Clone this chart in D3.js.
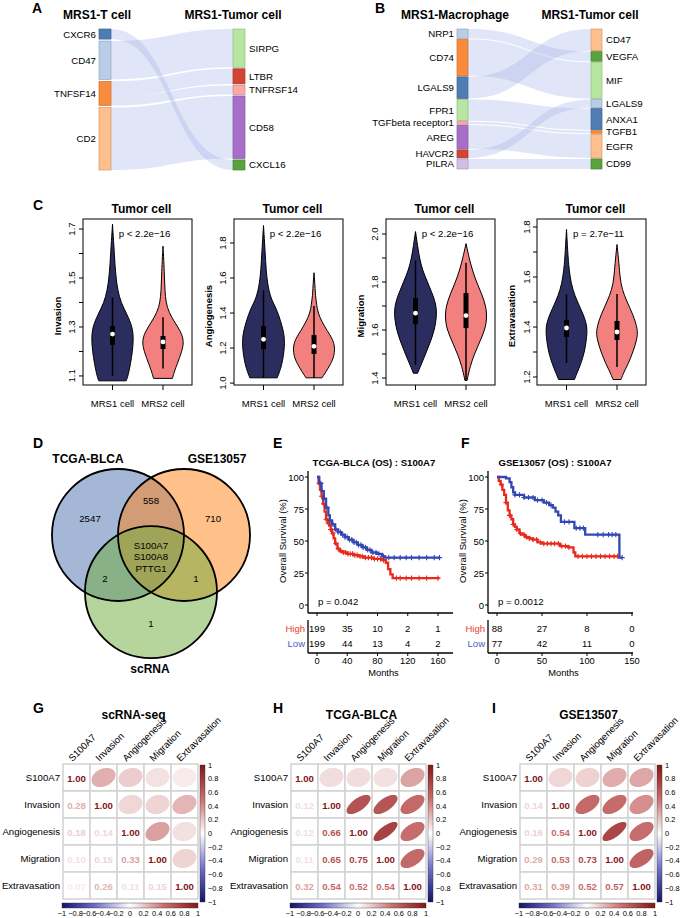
<!DOCTYPE html>
<html><head><meta charset="utf-8">
<script src="https://cdn.jsdelivr.net/npm/d3@7"></script>
<style>body{margin:0;background:#fff;} svg{display:block;}</style>
</head><body>
<svg id="fig" width="685" height="918"></svg>
<script>
// ===================== DATA =====================
// Panel A sankey
const sankeyALeft = ["CXCR6","CD47","TNFSF14","CD2"];
const sankeyARight = ["SIRPG","LTBR","TNFRSF14","CD58","CXCL16"];
const sankeyALinks = [["CXCR6","CXCL16",10],["CD47","SIRPG",38],["TNFSF14","LTBR",15],["TNFSF14","TNFRSF14",9],["CD2","CD58",62]];
// Panel B sankey
const sankeyBLeft = ["NRP1","CD74","LGALS9","FPR1","TGFbeta receptor1","AREG","HAVCR2","PILRA"];
const sankeyBRight = ["CD47","VEGFA","MIF","LGALS9","ANXA1","TGFB1","EGFR","CD99"];
const sankeyBLinks = [["NRP1","VEGFA",9.5],["CD74","MIF",36],["LGALS9","CD47",21.5],["FPR1","ANXA1",21],["TGFbeta receptor1","TGFB1",2.5],["AREG","EGFR",23.5],["HAVCR2","LGALS9",8],["PILRA","CD99",10]];

// Panel C violins
const violinMetrics = ["Invasion","Angiogenesis","Migration","Extravasation"];
const violinGroups = ["MRS1 cell","MRS2 cell"];
const violinPvals = ["p < 2.2e\u221216","p < 2.2e\u221216","p < 2.2e\u221216","p = 2.7e\u221211"];
const violinYLimits = [[1.063,1.741],[0.989,1.937],[1.371,2.0625],[1.168,1.832]];
const violinTicks = [[1.1,1.2,1.3,1.4,1.5,1.6,1.7],[1.0,1.2,1.4,1.6,1.8],[1.4,1.5,1.6,1.7,1.8,1.9,2.0],[1.2,1.3,1.4,1.5,1.6,1.7,1.8]];
const violinTickLabels = [[1.1,1.3,1.5,1.7],[1.0,1.2,1.4,1.6,1.8],[1.4,1.6,1.8,2.0],[1.2,1.4,1.6,1.8]];
// density profiles [value, relative half-width]
const densInvasionMRS1 = [[1.08,0.65],[1.10,0.74],[1.15,0.86],[1.20,0.95],[1.25,1.0],[1.30,0.95],[1.35,0.70],[1.40,0.40],[1.45,0.25],[1.50,0.17],[1.55,0.12],[1.60,0.09],[1.65,0.05],[1.72,0.0]];
const densInvasionMRS2 = [[1.09,0.45],[1.12,0.55],[1.15,0.68],[1.20,0.90],[1.24,1.0],[1.28,0.86],[1.32,0.55],[1.36,0.28],[1.40,0.14],[1.45,0.09],[1.50,0.07],[1.55,0.05],[1.63,0.0]];
const densAngioMRS1 = [[1.03,0.65],[1.10,0.88],[1.20,1.0],[1.25,1.0],[1.30,0.95],[1.40,0.70],[1.45,0.50],[1.50,0.30],[1.60,0.15],[1.70,0.10],[1.80,0.05],[1.90,0.0]];
const densAngioMRS2 = [[1.03,0.38],[1.10,0.76],[1.15,0.95],[1.20,1.0],[1.25,0.90],[1.30,0.62],[1.35,0.38],[1.40,0.19],[1.45,0.12],[1.50,0.07],[1.55,0.05],[1.63,0.0]];
const densMigrMRS1 = [[1.42,0.10],[1.45,0.24],[1.50,0.48],[1.55,0.71],[1.60,0.90],[1.65,1.0],[1.70,1.0],[1.75,0.81],[1.80,0.57],[1.85,0.33],[1.90,0.19],[1.95,0.10],[2.01,0.0]];
const densMigrMRS2 = [[1.39,0.05],[1.45,0.20],[1.50,0.40],[1.55,0.65],[1.60,0.90],[1.65,1.0],[1.70,0.95],[1.75,0.75],[1.80,0.50],[1.85,0.30],[1.90,0.15],[1.96,0.0]];
const densExtraMRS1 = [[1.19,0.38],[1.22,0.52],[1.25,0.67],[1.30,0.86],[1.35,0.95],[1.40,1.0],[1.45,0.81],[1.50,0.52],[1.55,0.29],[1.60,0.17],[1.65,0.10],[1.70,0.06],[1.79,0.0]];
const densExtraMRS2 = [[1.19,0.19],[1.22,0.33],[1.25,0.52],[1.30,0.76],[1.35,0.95],[1.39,1.0],[1.45,0.76],[1.50,0.48],[1.55,0.24],[1.60,0.14],[1.65,0.10],[1.73,0.0]];
// box stats [q1, median, q3, whiskerLow, whiskerHigh]
const boxInvasion = [[1.227,1.271,1.304,1.10,1.42],[1.210,1.239,1.263,1.13,1.34]];
const boxAngio = [[1.194,1.25,1.326,1.03,1.53],[1.166,1.21,1.274,1.03,1.44]];
const boxMigr = [[1.625,1.67,1.733,1.455,1.89],[1.608,1.66,1.754,1.39,1.88]];
const boxExtra = [[1.36,1.396,1.428,1.256,1.53],[1.348,1.38,1.424,1.24,1.532]];

// Panel D venn
const vennSets = ["TCGA-BLCA","GSE13057","scRNA"];
const vennCounts = {a:"2547", ab:"558", b:"710", ac:"2", bc:"1", c:"1"};
const vennCore = ["S100A7","S100A8","PTTG1"];

// Panel E / F survival
const kmEHigh = [[0,100],[2,95],[4,90],[6,85],[8,79],[10,73],[12,67],[14,64],[16,62],[18,59],[20,56],[22,52],[24,48],[27,44],[30,42],[35,41],[40,40],[48,39],[55,38],[62,37],[75,36],[86,35],[91,33],[94,28],[97,24],[100,21],[162,21]];
const kmELow = [[0,100],[3,95],[6,89],[9,83],[12,76],[15,70],[17,66],[20,63],[24,59],[28,57],[32,55],[37,53],[42,51],[48,49],[54,47],[60,45],[66,43],[72,41],[79,40],[86,38],[90,37],[162,37]];
const kmEHighCensor = [3,6,9,12,15,18,21,25,28,32,35,38,41,44,47,50,53,57,60,64,68,72,76,80,84,88,105,110,118,125,135,145,160];
const kmELowCensor = [5,9,13,17,21,25,28,31,34,37,40,43,46,49,52,55,58,61,64,67,70,74,78,82,88,95,102,110,118,125,135,145,155,162];
const kmFHigh = [[0,100],[2,97],[4,94],[6,90],[8,86],[10,80],[12,74],[14,70],[16,67],[18,63],[20,61],[22,59],[25,56],[28,55],[31,53],[36,52],[40,51],[45,49],[50,48],[65,48],[70,46],[79,45],[85,41],[87,38],[134,38]];
const kmFLow = [[0,100],[10,99],[14,96],[16,92],[18,88],[20,86],[30,84],[42,82],[52,80],[58,78],[62,76],[65,73],[68,70],[71,65],[85,65],[86,60],[97,60],[98,55],[135,55],[136,37],[139,37]];
const kmFHighCensor = [5,10,14,18,22,26,30,33,36,40,44,48,52,56,60,64,68,72,76,80,90,95,100,105,110,115,120,125,130,134];
const kmFLowCensor = [20,25,30,35,40,45,50,55,60,75,80,88,92,96,112,118,124,128,132,139];
const riskETimes = [0,40,80,120,160], riskEHigh = [199,35,10,2,1], riskELow = [199,44,13,4,2];
const riskFTimes = [0,50,100,150], riskFHigh = [88,27,8,0], riskFLow = [77,42,11,0];
const kmTicksY = [0,25,50,75,100];

// Panels G/H/I correlation
const corrVars = ["S100A7","Invasion","Angiogenesis","Migration","Extravasation"];
const corrScRNA = [[1,0.28,0.18,0.10,0.07],[0.28,1,0.14,0.15,0.26],[0.18,0.14,1,0.33,0.11],[0.10,0.15,0.33,1,0.15],[0.07,0.26,0.11,0.15,1]];
const corrTCGA = [[1,0.12,0.12,0.11,0.32],[0.12,1,0.66,0.65,0.54],[0.12,0.66,1,0.75,0.52],[0.11,0.65,0.75,1,0.54],[0.32,0.54,0.52,0.54,1]];
const corrGSE = [[1,0.14,0.16,0.29,0.31],[0.14,1,0.54,0.53,0.39],[0.16,0.54,1,0.73,0.52],[0.29,0.53,0.73,1,0.57],[0.31,0.39,0.52,0.57,1]];
const corrLegendTicks = [-1,-0.8,-0.6,-0.4,-0.2,0,0.2,0.4,0.6,0.8,1];

// ===================== DRAWING =====================
const svg = d3.select("#fig").style("font-family","Arial, 'Liberation Sans', Helvetica, sans-serif");
function txt(g,x,y,s,o={}){
  const t=g.append("text").attr("x",x).attr("y",y).text(s)
    .attr("font-size",o.size||9.6).attr("text-anchor",o.anchor||"start")
    .attr("font-weight",o.bold?"bold":"normal").attr("fill",o.fill||"#000")
    .attr("dominant-baseline","central");
  if(o.rotate) t.attr("transform",`rotate(${o.rotate},${x},${y})`);
  return t;
}
const fmtMinus = v => (v<0?"\u2212":"")+Math.abs(v);

// panel letters
[["A",32,8],["B",375,8],["C",33,205],["D",33,443],["E",273,443],["F",461,443],["G",33,708],["H",273,708],["I",492,708]]
 .forEach(d=>txt(svg,d[1],d[2],d[0],{size:14,bold:true}));

// ---------- Sankey ----------
function drawSankey(leftN,rightN,links,colL,colR,L){
  const g=svg.append("g");
  const lv=leftN.map(n=>d3.sum(links.filter(l=>l[0]===n),l=>l[2]));
  const rv=rightN.map(n=>d3.sum(links.filter(l=>l[1]===n),l=>l[2]));
  const H=L.y1-L.y0;
  const ky=Math.min((H-L.pad*(leftN.length-1))/d3.sum(lv),(H-L.pad*(rightN.length-1))/d3.sum(rv));
  const hs=d3.scaleLinear().domain([0,1]).range([0,ky]);
  function place(names,vals){
    const gap=(H-hs(d3.sum(vals)))/(names.length-1); let y=L.y0; const o={};
    names.forEach((n,i)=>{o[n]={y0:y,y1:y+hs(vals[i])}; y+=hs(vals[i])+gap;}); return o;
  }
  const PL=place(leftN,lv), PR=place(rightN,rv);
  const lo={},ro={}; leftN.forEach(n=>lo[n]=PL[n].y0); rightN.forEach(n=>ro[n]=PR[n].y0);
  const ls=links.map(l=>({s:l[0],t:l[1],v:l[2]}));
  ls.slice().sort((a,b)=>PR[a.t].y0-PR[b.t].y0).forEach(l=>{l.sy0=lo[l.s];l.sy1=l.sy0+hs(l.v);lo[l.s]=l.sy1;});
  ls.slice().sort((a,b)=>PL[a.s].y0-PL[b.s].y0).forEach(l=>{l.ty0=ro[l.t];l.ty1=l.ty0+hs(l.v);ro[l.t]=l.ty1;});
  const xa=L.xl+L.nw, xb=L.xr, xm=(xa+xb)/2;
  g.selectAll("path.lk").data(ls).join("path")
    .attr("d",l=>`M${xa},${l.sy0}C${xm},${l.sy0} ${xm},${l.ty0} ${xb},${l.ty0}L${xb},${l.ty1}C${xm},${l.ty1} ${xm},${l.sy1} ${xa},${l.sy1}Z`)
    .attr("fill","#a9b7ea").attr("fill-opacity",0.36);
  leftN.forEach((n,i)=>{
    g.append("rect").attr("x",L.xl).attr("y",PL[n].y0).attr("width",L.nw).attr("height",PL[n].y1-PL[n].y0)
      .attr("fill",colL[i]).attr("stroke",d3.color(colL[i]).darker(0.6)).attr("stroke-width",0.7);
    txt(g,L.xl-3,(PL[n].y0+PL[n].y1)/2,n,{anchor:"end",size:9.7});
  });
  rightN.forEach((n,i)=>{
    g.append("rect").attr("x",L.xr).attr("y",PR[n].y0).attr("width",L.nw).attr("height",PR[n].y1-PR[n].y0)
      .attr("fill",colR[i]).attr("stroke",d3.color(colR[i]).darker(0.6)).attr("stroke-width",0.7);
    txt(g,L.xr+L.nw+4,(PR[n].y0+PR[n].y1)/2,n,{size:9.7});
  });
  txt(g,L.t1x,15,L.t1,{anchor:"middle",bold:true,size:12});
  txt(g,L.t2x,15,L.t2,{anchor:"middle",bold:true,size:12});
}
drawSankey(sankeyALeft,sankeyARight,sankeyALinks,
  ["#4f7db3","#b9cde9","#f98c3c","#ffbf8c"],
  ["#b7e6a1","#cf4536","#ffa9a7","#a76fca","#5aa33c"],
  {xl:99,nw:12,xr:233,y0:29,y1:170,pad:1.5,t1:"MRS1-T cell",t1x:97,t2:"MRS1-Tumor cell",t2x:233});
drawSankey(sankeyBLeft,sankeyBRight,sankeyBLinks,
  ["#b9cde9","#f98c3c","#4f7db3","#b7e6a1","#ffa9a7","#a76fca","#cf4536","#d2bfe6"],
  ["#ffbf8c","#5aa33c","#b7e6a1","#b9cde9","#4f7db3","#f98c3c","#ffbf8c","#5aa33c"],
  {xl:457,nw:11,xr:591,y0:29,y1:169,pad:1,t1:"MRS1-Macrophage",t1x:455,t2:"MRS1-Tumor cell",t2x:590});

// ---------- Violins ----------
const violinDens=[[densInvasionMRS1,densInvasionMRS2],[densAngioMRS1,densAngioMRS2],[densMigrMRS1,densMigrMRS2],[densExtraMRS1,densExtraMRS2]];
const violinBox=[boxInvasion,boxAngio,boxMigr,boxExtra];
const violinFill=["#2b2d5f","#f1807e"];
const vLefts=[83,234,386,537];
violinMetrics.forEach((m,i)=>{
  const g=svg.append("g");
  const left=vLefts[i], top=219, bottom=385, w=109;
  const y=d3.scaleLinear().domain(violinYLimits[i]).range([bottom,top]);
  const x=d3.scalePoint().domain(violinGroups).range([left+29.5,left+80]);
  const ws=d3.scaleLinear().domain([0,1]).range([0,21]);
  violinGroups.forEach((gr,j)=>{
    const cx=x(gr);
    const area=d3.area().y(d=>y(d[0])).x0(d=>cx-ws(d[1])).x1(d=>cx+ws(d[1])).curve(d3.curveBasis);
    g.append("path").attr("d",area(violinDens[i][j])).attr("fill",violinFill[j]).attr("stroke","#000").attr("stroke-width",1);
    const b=violinBox[i][j];
    g.append("line").attr("x1",cx).attr("x2",cx).attr("y1",y(b[3])).attr("y2",y(b[4])).attr("stroke","#000").attr("stroke-width",1.5);
    g.append("rect").attr("x",cx-2.5).attr("width",5).attr("y",y(b[2])).attr("height",y(b[0])-y(b[2])).attr("fill","#000");
    g.append("circle").attr("cx",cx).attr("cy",y(b[1])).attr("r",2.4).attr("fill","#fff");
    g.append("line").attr("x1",cx).attr("x2",cx).attr("y1",bottom).attr("y2",bottom+5).attr("stroke","#000");
    txt(g,cx,403,gr,{anchor:"middle",size:9.5});
  });
  g.append("rect").attr("x",left).attr("y",top).attr("width",w).attr("height",bottom-top).attr("fill","none").attr("stroke","#000").attr("stroke-width",1);
  violinTicks[i].forEach(t=>{
    g.append("line").attr("x1",left-4).attr("x2",left).attr("y1",y(t)).attr("y2",y(t)).attr("stroke","#000");
  });
  violinTickLabels[i].forEach(t=>txt(g,left-11,y(t),t.toFixed(1),{anchor:"middle",rotate:-90,size:9.6}));
  txt(g,left-26,316,m,{anchor:"middle",rotate:-90,bold:true,size:9.5});
  txt(g,left+w/2+4,209,"Tumor cell",{anchor:"middle",bold:true,size:12});
  txt(g,left+w/2+7,233,violinPvals[i],{anchor:"middle",size:9.7});
});

// ---------- Venn ----------
(function(){
  const g=svg.append("g");
  const r=66, cx=151, cy=535;
  const circ=[{x:cx-r/2,y:cy,c:"#496faf"},{x:cx+r/2,y:cy,c:"#ff8115"},{x:cx,y:cy+r*Math.sqrt(3)/2,c:"#6dab39"}];
  circ.forEach(c=>g.append("circle").attr("cx",c.x).attr("cy",c.y).attr("r",r).attr("fill",c.c).attr("fill-opacity",0.5));
  circ.forEach(c=>g.append("circle").attr("cx",c.x).attr("cy",c.y).attr("r",r).attr("fill","none").attr("stroke","#000").attr("stroke-width",1.8));
  txt(g,88,459,vennSets[0],{anchor:"middle",bold:true,size:12});
  txt(g,217,459,vennSets[1],{anchor:"middle",bold:true,size:12});
  txt(g,150,669,vennSets[2],{anchor:"middle",bold:true,size:12});
  txt(g,90,518,vennCounts.a,{anchor:"middle",size:9.7});
  txt(g,151,500,vennCounts.ab,{anchor:"middle",size:9.7});
  txt(g,213,518,vennCounts.b,{anchor:"middle",size:9.7});
  vennCore.forEach((s,i)=>txt(g,151,545+i*11.5,s,{anchor:"middle",size:9.7}));
  txt(g,105,578,vennCounts.ac,{anchor:"middle",size:9.7});
  txt(g,196,578,vennCounts.bc,{anchor:"middle",size:9.7});
  txt(g,151,623,vennCounts.c,{anchor:"middle",size:9.7});
})();

// ---------- KM ----------
function survAt(curve,t){let s=100;for(const d of curve) if(d[0]<=t) s=d[1];return s;}
function drawKM(c){
  const g=svg.append("g");
  const x=d3.scaleLinear().domain([0,c.tmax]).range([c.x0,c.x1]);
  const y=d3.scaleLinear().domain([0,100]).range([605,477]);
  const ax=c.axisX, ae=c.axisEnd;
  g.append("line").attr("x1",ax).attr("x2",ax).attr("y1",471).attr("y2",613).attr("stroke","#000").attr("stroke-width",1.3);
  g.append("line").attr("x1",ax).attr("x2",ae).attr("y1",613).attr("y2",613).attr("stroke","#000").attr("stroke-width",1.3);
  kmTicksY.forEach(t=>{
    g.append("line").attr("x1",ax-3).attr("x2",ax).attr("y1",y(t)).attr("y2",y(t)).attr("stroke","#000");
    txt(g,ax-4,y(t),t,{anchor:"end",size:9.5});
  });
  c.ticks.forEach(t=>g.append("line").attr("x1",x(t)).attr("x2",x(t)).attr("y1",613).attr("y2",616).attr("stroke","#000"));
  const line=d3.line().x(d=>x(d[0])).y(d=>y(d[1])).curve(d3.curveStepAfter);
  [[c.high,c.highC,"#e8291c"],[c.low,c.lowC,"#3347b2"]].forEach(([cur,cens,col])=>{
    g.append("path").attr("d",line(cur)).attr("fill","none").attr("stroke",col).attr("stroke-width",2.3);
    g.selectAll(null).data(cens).join("path")
      .attr("d",t=>{const px=x(t),py=y(survAt(cur,t));return `M${px-2.6},${py}h5.2M${px},${py-2.6}v5.2`;})
      .attr("stroke",col).attr("stroke-width",1.1).attr("fill","none");
  });
  txt(g,c.x0+1,601,c.p,{size:9.6});
  txt(g,c.titleX,462,c.title,{anchor:"middle",bold:true,size:9.6});
  txt(g,c.ylabX,541,"Overall Survival (%)",{anchor:"middle",rotate:-90,size:9.5});
  // risk table
  g.append("line").attr("x1",ax).attr("x2",ax).attr("y1",620).attr("y2",653).attr("stroke","#000").attr("stroke-width",1.3);
  g.append("line").attr("x1",ax).attr("x2",ae).attr("y1",653).attr("y2",653).attr("stroke","#000").attr("stroke-width",1.3);
  txt(g,ax-3,628,"High",{anchor:"end",fill:"#ee3a2c",size:9.5});
  txt(g,ax-3,643,"Low",{anchor:"end",fill:"#4c5cc4",size:9.5});
  c.rt.forEach((t,i)=>{
    txt(g,x(t),628,c.rh[i],{anchor:"middle",size:9.5});
    txt(g,x(t),643,c.rl[i],{anchor:"middle",size:9.5});
  });
  c.ticks.forEach(t=>{
    g.append("line").attr("x1",x(t)).attr("x2",x(t)).attr("y1",653).attr("y2",656).attr("stroke","#000");
    txt(g,x(t),661,t,{anchor:"middle",size:9.3});
  });
  txt(g,(ax+ae)/2+3,672.5,"Months",{anchor:"middle",size:9.3});
}
drawKM({tmax:160,x0:317,x1:438,axisX:308,axisEnd:453,ticks:riskETimes,high:kmEHigh,low:kmELow,highC:kmEHighCensor,lowC:kmELowCensor,
  p:"p = 0.042",title:"TCGA-BLCA (OS) : S100A7",titleX:374,ylabX:282,rt:riskETimes,rh:riskEHigh,rl:riskELow});
drawKM({tmax:150,x0:497,x1:632,axisX:488,axisEnd:633,ticks:riskFTimes,high:kmFHigh,low:kmFLow,highC:kmFHighCensor,lowC:kmFLowCensor,
  p:"p = 0.0012",title:"GSE13057 (OS) : S100A7",titleX:555,ylabX:462,rt:riskFTimes,rh:riskFHigh,rl:riskFLow});

// ---------- Corrplots ----------
const corrColor=d3.scaleLinear().domain([-1,-0.5,0,0.5,1]).range(["#13136a","#7272cb","#ffffff","#c97070","#861515"]);
const defs=svg.append("defs");
function grad(id,vertical){
  const lg=defs.append("linearGradient").attr("id",id)
    .attr("x1",0).attr("y1",vertical?1:0).attr("x2",vertical?0:1).attr("y2",0);
  d3.range(0,21).forEach(k=>lg.append("stop").attr("offset",k/20).attr("stop-color",corrColor(-1+k*0.1)));
}
grad("cbv",true); grad("cbh",false);
function drawCorr(x0,title,mat,titleDx){
  const g=svg.append("g"), y0=764, cs=27;
  const xs=d3.scaleBand().domain(corrVars).range([x0,x0+5*cs]);
  const ys=d3.scaleBand().domain(corrVars).range([y0,y0+5*cs]);
  corrVars.forEach((rv,i)=>corrVars.forEach((cv,j)=>{
    g.append("rect").attr("x",xs(cv)).attr("y",ys(rv)).attr("width",cs).attr("height",cs)
      .attr("fill","#fff").attr("stroke","#d2d2d2").attr("stroke-width",1.5);
  }));
  corrVars.forEach((rv,i)=>corrVars.forEach((cv,j)=>{
    const v=mat[i][j], cx=xs(cv)+cs/2, cy=ys(rv)+cs/2;
    if(j<=i){
      txt(g,cx,cy+0.5,v.toFixed(2),{anchor:"middle",bold:true,size:9.6,fill:corrColor(v)});
    } else {
      const d=Math.acos(v), pts=d3.range(0,2*Math.PI,Math.PI/40).map(t=>[cx+12*Math.cos(t+d/2),cy-9.6*Math.cos(t-d/2)]);
      g.append("path").attr("d",d3.line().curve(d3.curveLinearClosed)(pts)).attr("fill",corrColor(v));
    }
  }));
  corrVars.forEach(rv=>txt(g,x0-3,ys(rv)+cs/2,rv,{anchor:"end",size:9.6}));
  corrVars.forEach(cv=>{
    const px=xs(cv)+cs/2-4, py=y0-2;
    g.append("text").attr("x",px).attr("y",py).text(cv).attr("font-size",9.6)
      .attr("transform",`rotate(-45,${px},${py})`);
  });
  // vertical colorbar
  const cb=d3.scaleLinear().domain([-1,1]).range([902,765]);
  const bx=x0+5*cs+2;
  g.append("rect").attr("x",bx).attr("y",765).attr("width",5).attr("height",137).attr("fill","url(#cbv)").attr("stroke","#333").attr("stroke-width",0.4);
  corrLegendTicks.forEach(t=>txt(g,bx+8,cb(t),fmtMinus(+t.toFixed(1)),{size:7.4}));
  // horizontal colorbar
  const ch=d3.scaleLinear().domain([-1,1]).range([x0-1,x0+5*cs]);
  g.append("rect").attr("x",x0-1).attr("y",903).attr("width",5*cs+1).attr("height",5).attr("fill","url(#cbh)").attr("stroke","#333").attr("stroke-width",0.4);
  corrLegendTicks.forEach(t=>txt(g,ch(t),913.5,fmtMinus(+t.toFixed(1)),{anchor:"middle",size:7.4}));
  txt(g,x0+5*cs/2+titleDx,715,title,{anchor:"middle",bold:true,size:12});
}
drawCorr(63,"scRNA-seq",corrScRNA,3);
drawCorr(291,"TCGA-BLCA",corrTCGA,3);
drawCorr(520,"GSE13507",corrGSE,1);
</script>
</body></html>
